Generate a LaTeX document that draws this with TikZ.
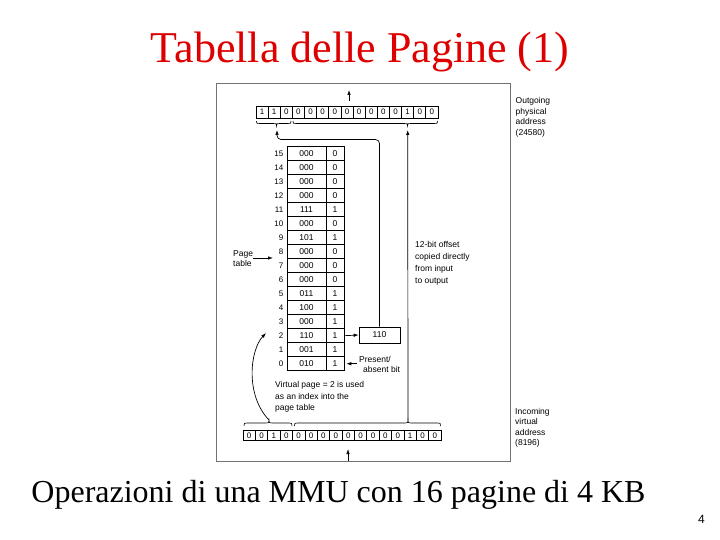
\documentclass[tikz,border=0pt]{standalone}
\usepackage{fontspec}
\setmainfont{Liberation Serif}
\newfontfamily\diagfont{Liberation Sans}
\usetikzlibrary{arrows.meta}
\definecolor{titlered}{RGB}{222,0,0}
\newcommand{\regbrace}[6]{% x1, xtip, x2, yend, yline, ytip
  \draw[bracestyle] (#1,#4) .. controls (#1,#5) .. ({#1+3},#5) -- ({#2-3},#5)
    .. controls (#2,#5) .. (#2,#6) .. controls (#2,#5) .. ({#2+3},#5)
    -- ({#3-3},#5) .. controls (#3,#5) .. (#3,#4);}
\begin{document}
\begin{tikzpicture}[x=1pt,y=-1pt,
  cellstyle/.style={draw, line width=0.7pt, inner sep=0pt, font=\diagfont\fontsize{8}{8}\selectfont},
  tabcell/.style={cellstyle, font=\diagfont\fontsize{8.5}{8.5}\selectfont},
  lbl/.style={anchor=north west, inner sep=0pt, align=left, font=\diagfont\fontsize{8.5}{#1}\selectfont},
  idx/.style={anchor=east, inner sep=0pt, font=\diagfont\fontsize{8}{8}\selectfont},
  conn/.style={draw, line width=0.7pt, -{Latex[length=5pt,width=3.5pt]}},
  bracestyle/.style={draw, line width=0.6pt},
  framestyle/.style={draw, black!55, line width=1pt}]
\useasboundingbox (0,0) rectangle (720,540);

% title, caption, page number
\node[anchor=base, text=titlered, inner sep=0pt, font=\fontsize{44}{44}\selectfont] (title) at (360,63) {Tabella delle Pagine (1)};
\node[anchor=base, inner sep=0pt, font=\fontsize{32}{32}\selectfont] (caption) at (338.5,502) {Operazioni di una MMU con 16 pagine di 4 KB};
\node[anchor=base, inner sep=0pt, font=\diagfont\fontsize{12}{12}\selectfont] (pagenum) at (701.5,523) {4};

% frame
\draw[framestyle] (216,84) rectangle (510,461);

% outgoing register (15 bits)
\foreach \b [count=\i] in {1,1,0,0,0,0,0,0,0,0,0,0,1,0,0}
  \node[cellstyle, minimum width=12.13pt, minimum height=12.3pt] (t\i) at ({256+12.13*(\i-0.5)},112.2) {\b};

% incoming register (16 bits)
\foreach \b [count=\i] in {0,0,1,0,0,0,0,0,0,0,0,0,0,1,0,0}
  \node[cellstyle, minimum width=12.38pt, minimum height=10pt] (b\i) at ({243+12.38*(\i-0.5)},435.7) {\b};

% page table
\foreach \n/\f/\p [count=\r from 0] in {15/000/0,14/000/0,13/000/0,12/000/0,11/111/1,10/000/0,9/101/1,8/000/0,7/000/0,6/000/0,5/011/1,4/100/1,3/000/1,2/110/1,1/001/1,0/010/1}{
  \node[tabcell, minimum width=39pt, minimum height=14pt] (f\n) at (306.5,{153.7+14*\r}) {\f};
  \node[tabcell, minimum width=18pt, minimum height=14pt] (p\n) at (335,{153.7+14*\r}) {\p};
  \node[idx] (i\n) at (283.5,{153.7+14*\r}) {\n};
}

% result frame box
\node[tabcell, minimum width=41pt, minimum height=16pt] (box110) at (379.5,335) {110};

% braces
\regbrace{256.5}{276.5}{291}{121}{123.5}{126}
\regbrace{293}{407.5}{437.5}{121}{123.5}{126}
\regbrace{244}{269}{292}{426}{423}{420}
\regbrace{294.5}{408}{440.5}{426}{423}{420}

% labels
\node[lbl=10.5] (outgoing) at (515.5,97.5) {Outgoing\\physical\\address\\(24580)};
\node[lbl=10.5] (incoming) at (515,408) {Incoming\\virtual\\address\\(8196)};
\node[lbl=12] (offset) at (415,241.5) {12-bit offset\\copied directly\\from input\\to output};
\node[lbl=11.5] (vpage) at (275,381.5) {Virtual page = 2 is used\\as an index into the\\page table};
\node[lbl=9.5] (present) at (359,356.5) {Present/\\\hspace*{4pt}absent bit};
\node[lbl=10] (pagetable) at (233,250) {Page\\table};

% coordinates
\coordinate (outTail) at (349,101);
\coordinate (outHead) at (349,90);
\coordinate (inTail) at (348,461);
\coordinate (inHead) at (348,449);
\coordinate (tlTip) at (277,130);
\coordinate (trTip) at (407.7,130);
\coordinate (blTip) at (269,420);
\coordinate (brTip) at (408,420);
\coordinate (rowTwo) at (266,333);
\coordinate (presTail) at (357,363.7);
\coordinate (ptTail) at (253,258);
\coordinate (ptHead) at (273,258);

% connectors
\draw[conn] (outTail) -- (outHead);
\draw[conn] (inTail) -- (inHead);
\draw[conn, rounded corners=4pt] (box110.north) |- (277,139.5) -- (tlTip);
\draw[conn] (brTip) -- (trTip);
\draw[conn] (blTip) .. controls (245,395) and (250,350) .. (rowTwo);
\draw[conn] (p2.east) -- (box110.west);
\draw[conn] (presTail) -- ([xshift=2pt]p0.east);
\draw[conn] (ptTail) -- (ptHead);
\end{tikzpicture}
\end{document}
